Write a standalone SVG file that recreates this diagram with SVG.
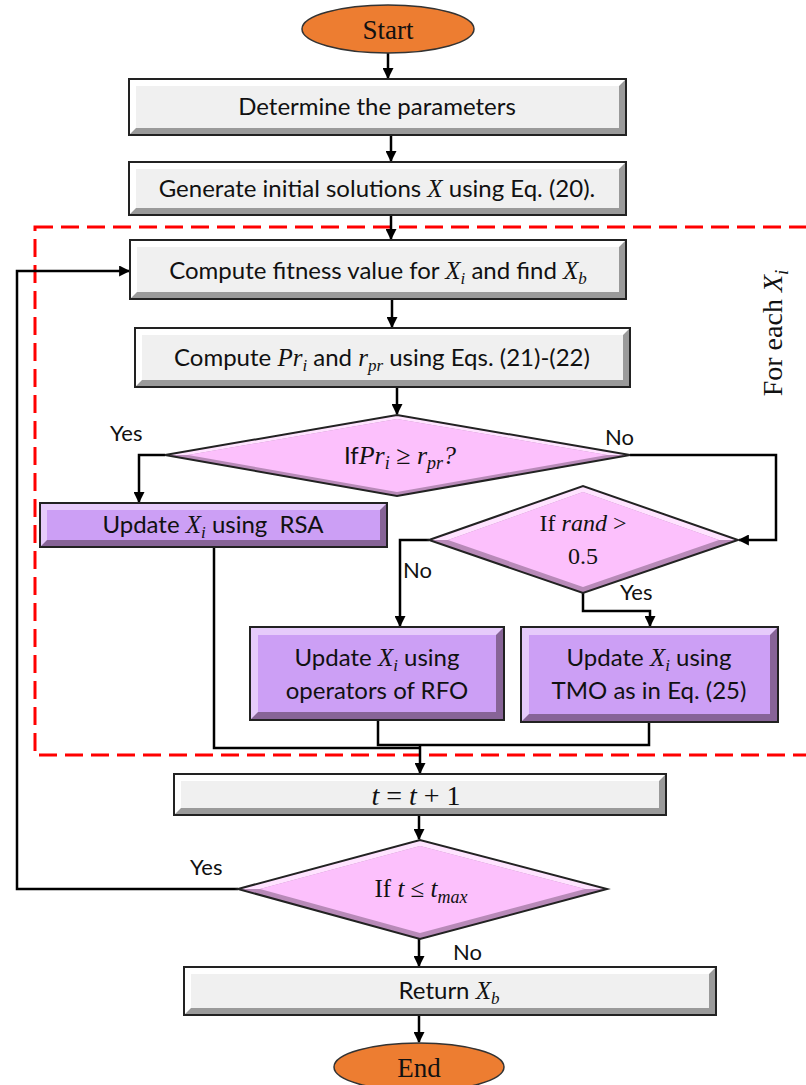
<svg xmlns="http://www.w3.org/2000/svg" width="806" height="1085" viewBox="0 0 806 1085">
<defs>
<marker id="ah" viewBox="0 0 10 10" refX="9" refY="5" markerWidth="4.4" markerHeight="4.4" orient="auto" markerUnits="strokeWidth"><path d="M0,0 L10,5 L0,10 z" fill="#000"/></marker>
<style>
.gd{fill:#9a9a9a}.gl{fill:#ffffff}.gf{fill:#f0f0f0}
.pd{fill:#876497}.pl{fill:#e6cbfb}.pf{fill:#cc9ff5}
.kd{fill:#b88ab8}.kl{fill:#ffe3ff}.kf{fill:#fcc0fc}
.ol{fill:none;stroke:#222;stroke-width:2}
.oval{fill:#ed7d31;stroke:#333;stroke-width:1.5}
.t{font-family:Lato,"Open Sans",sans-serif;font-size:24px;fill:#111;text-anchor:middle}
.m{font-family:"Liberation Serif",serif;font-style:italic}
.s{font-family:"Liberation Serif",serif;fill:#111;text-anchor:middle}
.lb{font-family:Lato,"Open Sans",sans-serif;font-size:22px;fill:#111}
.c{fill:none;stroke:#000;stroke-width:2.5}
</style>
</defs>
<rect x="35" y="227" width="800" height="528" fill="none" stroke="#ff0000" stroke-width="3" stroke-dasharray="18,8"/>
<g id="connectors">
<path class="c" d="M388,53 V78" marker-end="url(#ah)"/>
<path class="c" d="M391,135 V161" marker-end="url(#ah)"/>
<path class="c" d="M391,215 V239" marker-end="url(#ah)"/>
<path class="c" d="M392,299 V327" marker-end="url(#ah)"/>
<path class="c" d="M397,387 V414" marker-end="url(#ah)"/>
<path class="c" d="M165,455 H139 V502" marker-end="url(#ah)"/>
<path class="c" d="M630,455 H776 V540 H739" marker-end="url(#ah)"/>
<path class="c" d="M429,540 H400 V626" marker-end="url(#ah)"/>
<path class="c" d="M583,593 V611 H650 V626" marker-end="url(#ah)"/>
<path class="c" d="M214,547 V748 H420"/>
<path class="c" d="M378,720 V745 H649 V722"/>
<path class="c" d="M420,745 V773" marker-end="url(#ah)"/>
<path class="c" d="M419,815 V839" marker-end="url(#ah)"/>
<path class="c" d="M238,889 H17 V271 H129" marker-end="url(#ah)"/>
<path class="c" d="M419,939 V966" marker-end="url(#ah)"/>
<path class="c" d="M419,1015 V1042" marker-end="url(#ah)"/>
</g>
<g id="labels">
<text class="lb" x="110" y="441">Yes</text>
<text class="lb" x="605" y="445">No</text>
<text class="lb" x="403" y="578">No</text>
<text class="lb" x="620" y="600">Yes</text>
<text class="lb" x="190" y="875">Yes</text>
<text class="lb" x="453" y="960">No</text>
<text class="s" font-size="28" transform="translate(782,333) rotate(-90)">For each <tspan class="m">X</tspan><tspan class="m" font-size="19" dy="6">i</tspan></text>
</g>
<g id="start">
<ellipse class="oval" cx="388" cy="29" rx="86" ry="24"/>
<text class="s" x="388" y="39" font-size="27">Start</text>
</g>
<g id="determine">
<rect class="gd" x="129" y="79" width="497" height="56"/>
<polygon class="gl" points="129,79 626,79 619,86 136,86 136,128 129,135"/>
<rect class="gf" x="136" y="86" width="483" height="42"/>
<rect class="ol" x="129" y="79" width="497" height="56"/>
<text class="t" x="377" y="115">Determine the parameters</text>
</g>
<g id="generate">
<rect class="gd" x="129" y="162" width="497" height="53"/>
<polygon class="gl" points="129,162 626,162 619,169 136,169 136,208 129,215"/>
<rect class="gf" x="136" y="169" width="483" height="39"/>
<rect class="ol" x="129" y="162" width="497" height="53"/>
<text class="t" x="377" y="197">Generate initial solutions <tspan class="m" font-size="25">X</tspan> using Eq. (20).</text>
</g>
<g id="fitness">
<rect class="gd" x="130" y="240" width="496" height="59"/>
<polygon class="gl" points="130,240 626,240 619,247 137,247 137,292 130,299"/>
<rect class="gf" x="137" y="247" width="482" height="45"/>
<rect class="ol" x="130" y="240" width="496" height="59"/>
<text class="t" x="378" y="279">Compute fitness value for <tspan class="m" font-size="25">X</tspan><tspan class="m" font-size="17" dy="5">i</tspan><tspan dy="-5"> and find </tspan><tspan class="m" font-size="25">X</tspan><tspan class="m" font-size="17" dy="5">b</tspan></text>
</g>
<g id="computepr">
<rect class="gd" x="135" y="328" width="495" height="59"/>
<polygon class="gl" points="135,328 630,328 623,335 142,335 142,380 135,387"/>
<rect class="gf" x="142" y="335" width="481" height="45"/>
<rect class="ol" x="135" y="328" width="495" height="59"/>
<text class="t" x="382" y="366">Compute <tspan class="m" font-size="25">Pr</tspan><tspan class="m" font-size="17" dy="5">i</tspan><tspan dy="-5"> and </tspan><tspan class="m" font-size="25">r</tspan><tspan class="m" font-size="17" dy="5">pr</tspan><tspan dy="-5"> using Eqs. (21)-(22)</tspan></text>
</g>
<g id="decision1">
<polygon class="kd" points="165,455 397,415 630,455 397,496"/>
<polygon class="kl" points="165,455 397,415 630,455 607,455 397,419 188,455"/>
<polygon class="kf" points="188,455 397,419 607,455 397,492"/>
<polygon class="ol" points="165,455 397,415 630,455 397,496"/>
<text class="t" x="400" y="464">If<tspan class="m" font-size="26">Pr</tspan><tspan class="m" font-size="18" dy="5">i</tspan><tspan dy="-5" class="s" font-size="26"> ≥ </tspan><tspan class="m" font-size="26">r</tspan><tspan class="m" font-size="18" dy="5">pr</tspan><tspan dy="-5" class="m" font-size="26">?</tspan></text>
</g>
<g id="rsa">
<rect class="pd" x="40" y="503" width="347" height="44"/>
<polygon class="pl" points="40,503 387,503 380,510 47,510 47,540 40,547"/>
<rect class="pf" x="47" y="510" width="333" height="30"/>
<rect class="ol" x="40" y="503" width="347" height="44"/>
<text class="t" x="213" y="533">Update <tspan class="m" font-size="25">X</tspan><tspan class="m" font-size="17" dy="5">i</tspan><tspan dy="-5"> using &#160;RSA</tspan></text>
</g>
<g id="decision2">
<polygon class="kd" points="429,540 583,486 738,540 583,593"/>
<polygon class="kl" points="429,540 583,486 738,540 719,540 583,492 448,540"/>
<polygon class="kf" points="448,540 583,492 719,540 583,587"/>
<polygon class="ol" points="429,540 583,486 738,540 583,593"/>
<text class="s" x="583" y="531" font-size="24">If <tspan class="m">rand</tspan> &gt;</text>
<text class="s" x="583" y="564" font-size="24">0.5</text>
</g>
<g id="rfo">
<rect class="pd" x="250" y="627" width="254" height="93"/>
<polygon class="pl" points="250,627 504,627 496,635 258,635 258,712 250,720"/>
<rect class="pf" x="258" y="635" width="238" height="77"/>
<rect class="ol" x="250" y="627" width="254" height="93"/>
<text class="t" x="377" y="666">Update <tspan class="m" font-size="25">X</tspan><tspan class="m" font-size="17" dy="5">i</tspan><tspan dy="-5"> using</tspan></text>
<text class="t" x="377" y="699">operators of RFO</text>
</g>
<g id="tmo">
<rect class="pd" x="521" y="627" width="257" height="95"/>
<polygon class="pl" points="521,627 778,627 770,635 529,635 529,714 521,722"/>
<rect class="pf" x="529" y="635" width="241" height="79"/>
<rect class="ol" x="521" y="627" width="257" height="95"/>
<text class="t" x="649" y="666">Update <tspan class="m" font-size="25">X</tspan><tspan class="m" font-size="17" dy="5">i</tspan><tspan dy="-5"> using</tspan></text>
<text class="t" x="649" y="699">TMO as in Eq. (25)</text>
</g>
<g id="increment">
<rect class="gd" x="174" y="774" width="492" height="41"/>
<polygon class="gl" points="174,774 666,774 659,781 181,781 181,808 174,815"/>
<rect class="gf" x="181" y="781" width="478" height="27"/>
<rect class="ol" x="174" y="774" width="492" height="41"/>
<text class="s" x="416" y="805" font-size="28"><tspan class="m">t</tspan> = <tspan class="m">t</tspan> + 1</text>
</g>
<g id="decision3">
<polygon class="kd" points="238,889 420,840 607,889 420,939"/>
<polygon class="kl" points="238,889 420,840 607,889 585,889 420,846 260,889"/>
<polygon class="kf" points="260,889 420,846 585,889 420,933"/>
<polygon class="ol" points="238,889 420,840 607,889 420,939"/>
<text class="s" x="421" y="897" font-size="25">If <tspan class="m">t</tspan> ≤ <tspan class="m">t</tspan><tspan class="m" font-size="18" dy="6">max</tspan></text>
</g>
<g id="return">
<rect class="gd" x="184" y="967" width="532" height="48"/>
<polygon class="gl" points="184,967 716,967 709,974 191,974 191,1008 184,1015"/>
<rect class="gf" x="191" y="974" width="518" height="34"/>
<rect class="ol" x="184" y="967" width="532" height="48"/>
<text class="t" x="449" y="999">Return <tspan class="m" font-size="25">X</tspan><tspan class="m" font-size="17" dy="5">b</tspan></text>
</g>
<g id="end">
<ellipse class="oval" cx="419" cy="1067" rx="85" ry="24"/>
<text class="s" x="419" y="1077" font-size="27">End</text>
</g>
</svg>
